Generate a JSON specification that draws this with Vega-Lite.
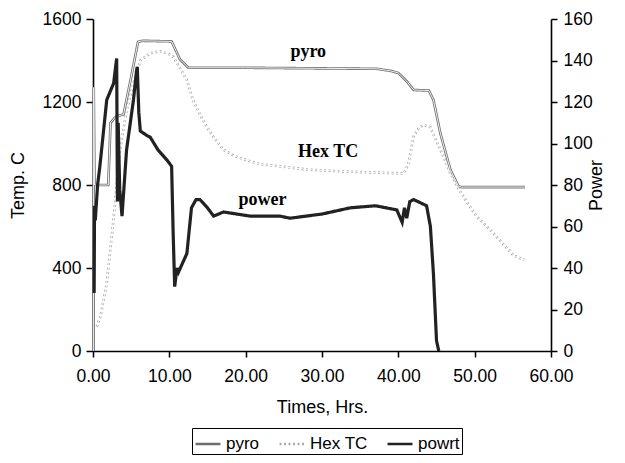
{
  "$schema": "https://vega.github.io/schema/vega-lite/v6.json",
  "width": 458,
  "height": 332,
  "autosize": {"type": "none"},
  "padding": {"left": 93, "top": 19, "right": 74, "bottom": 112},
  "background": "white",
  "config": {
    "view": {"stroke": null},
    "font": "Liberation Sans",
    "axis": {
      "grid": false,
      "domainColor": "black",
      "tickColor": "black",
      "labelColor": "black",
      "titleColor": "black",
      "labelFontSize": 17.5,
      "titleFontSize": 18,
      "titleFontWeight": "normal",
      "labelFont": "Liberation Sans",
      "titleFont": "Liberation Sans",
      "domainWidth": 1.6,
      "tickWidth": 1.5
    }
  },
  "data": {
    "values": [
      {"s": "pyro", "h": 0.05, "v": 0},
      {"s": "pyro", "h": 0.1, "v": 1270},
      {"s": "pyro", "h": 0.2, "v": 800},
      {"s": "pyro", "h": 2.0, "v": 800},
      {"s": "pyro", "h": 2.3, "v": 1100},
      {"s": "pyro", "h": 3.0, "v": 1130},
      {"s": "pyro", "h": 4.0, "v": 1140},
      {"s": "pyro", "h": 5.0, "v": 1320},
      {"s": "pyro", "h": 5.9, "v": 1490},
      {"s": "pyro", "h": 6.5, "v": 1495},
      {"s": "pyro", "h": 10.3, "v": 1492},
      {"s": "pyro", "h": 11.4, "v": 1405},
      {"s": "pyro", "h": 12.5, "v": 1365},
      {"s": "pyro", "h": 20.0, "v": 1365},
      {"s": "pyro", "h": 30.0, "v": 1362},
      {"s": "pyro", "h": 37.2, "v": 1360},
      {"s": "pyro", "h": 39.0, "v": 1350},
      {"s": "pyro", "h": 40.0, "v": 1340},
      {"s": "pyro", "h": 41.1, "v": 1300},
      {"s": "pyro", "h": 42.0, "v": 1258},
      {"s": "pyro", "h": 44.0, "v": 1255},
      {"s": "pyro", "h": 44.6, "v": 1210},
      {"s": "pyro", "h": 45.5, "v": 1050},
      {"s": "pyro", "h": 46.8, "v": 875},
      {"s": "pyro", "h": 47.9, "v": 792},
      {"s": "pyro", "h": 48.3, "v": 790},
      {"s": "pyro", "h": 56.6, "v": 790},
      {"s": "Hex TC", "h": 0.5, "v": 117},
      {"s": "Hex TC", "h": 1.0, "v": 170},
      {"s": "Hex TC", "h": 1.8, "v": 326},
      {"s": "Hex TC", "h": 2.7, "v": 640},
      {"s": "Hex TC", "h": 3.5, "v": 960},
      {"s": "Hex TC", "h": 4.4, "v": 1160},
      {"s": "Hex TC", "h": 5.3, "v": 1290},
      {"s": "Hex TC", "h": 6.2, "v": 1400},
      {"s": "Hex TC", "h": 7.5, "v": 1435},
      {"s": "Hex TC", "h": 8.8, "v": 1445},
      {"s": "Hex TC", "h": 10.0, "v": 1430},
      {"s": "Hex TC", "h": 10.5, "v": 1418},
      {"s": "Hex TC", "h": 11.3, "v": 1370},
      {"s": "Hex TC", "h": 12.3, "v": 1306},
      {"s": "Hex TC", "h": 13.1, "v": 1210},
      {"s": "Hex TC", "h": 14.0, "v": 1140},
      {"s": "Hex TC", "h": 14.9, "v": 1081},
      {"s": "Hex TC", "h": 16.0, "v": 1020},
      {"s": "Hex TC", "h": 17.1, "v": 970},
      {"s": "Hex TC", "h": 18.5, "v": 940},
      {"s": "Hex TC", "h": 20.1, "v": 920},
      {"s": "Hex TC", "h": 22.0, "v": 900},
      {"s": "Hex TC", "h": 24.9, "v": 888},
      {"s": "Hex TC", "h": 28.0, "v": 875},
      {"s": "Hex TC", "h": 30.0, "v": 870},
      {"s": "Hex TC", "h": 33.7, "v": 864},
      {"s": "Hex TC", "h": 37.0, "v": 860},
      {"s": "Hex TC", "h": 40.7, "v": 856},
      {"s": "Hex TC", "h": 41.3, "v": 900},
      {"s": "Hex TC", "h": 42.0, "v": 1033},
      {"s": "Hex TC", "h": 42.7, "v": 1075},
      {"s": "Hex TC", "h": 43.3, "v": 1090},
      {"s": "Hex TC", "h": 44.2, "v": 1078},
      {"s": "Hex TC", "h": 45.0, "v": 1010},
      {"s": "Hex TC", "h": 46.0, "v": 930},
      {"s": "Hex TC", "h": 46.8, "v": 857},
      {"s": "Hex TC", "h": 48.0, "v": 775},
      {"s": "Hex TC", "h": 49.2, "v": 705},
      {"s": "Hex TC", "h": 50.3, "v": 647},
      {"s": "Hex TC", "h": 52.0, "v": 585},
      {"s": "Hex TC", "h": 53.5, "v": 525},
      {"s": "Hex TC", "h": 55.1, "v": 460},
      {"s": "Hex TC", "h": 56.5, "v": 440},
      {"s": "powrt", "h": 0.15, "v": 28},
      {"s": "powrt", "h": 0.2, "v": 70},
      {"s": "powrt", "h": 0.3, "v": 63},
      {"s": "powrt", "h": 0.6, "v": 80},
      {"s": "powrt", "h": 0.9, "v": 89},
      {"s": "powrt", "h": 1.8, "v": 121},
      {"s": "powrt", "h": 2.7, "v": 129},
      {"s": "powrt", "h": 3.1, "v": 141},
      {"s": "powrt", "h": 3.2, "v": 72},
      {"s": "powrt", "h": 3.3, "v": 110},
      {"s": "powrt", "h": 3.5, "v": 78},
      {"s": "powrt", "h": 3.8, "v": 65},
      {"s": "powrt", "h": 4.4, "v": 97},
      {"s": "powrt", "h": 5.3, "v": 121},
      {"s": "powrt", "h": 5.7, "v": 135},
      {"s": "powrt", "h": 5.8, "v": 137},
      {"s": "powrt", "h": 6.0, "v": 115},
      {"s": "powrt", "h": 6.2, "v": 106},
      {"s": "powrt", "h": 7.0, "v": 104},
      {"s": "powrt", "h": 7.5, "v": 103},
      {"s": "powrt", "h": 8.5, "v": 97},
      {"s": "powrt", "h": 9.7, "v": 92},
      {"s": "powrt", "h": 10.3, "v": 89},
      {"s": "powrt", "h": 10.5, "v": 57},
      {"s": "powrt", "h": 10.7, "v": 31},
      {"s": "powrt", "h": 11.0, "v": 40},
      {"s": "powrt", "h": 11.2, "v": 38},
      {"s": "powrt", "h": 12.3, "v": 47},
      {"s": "powrt", "h": 12.9, "v": 69},
      {"s": "powrt", "h": 13.5, "v": 73},
      {"s": "powrt", "h": 14.0, "v": 73},
      {"s": "powrt", "h": 15.0, "v": 69},
      {"s": "powrt", "h": 15.8, "v": 65},
      {"s": "powrt", "h": 17.1, "v": 67},
      {"s": "powrt", "h": 20.6, "v": 65},
      {"s": "powrt", "h": 24.5, "v": 65},
      {"s": "powrt", "h": 25.8, "v": 64},
      {"s": "powrt", "h": 30.0, "v": 66},
      {"s": "powrt", "h": 33.7, "v": 69},
      {"s": "powrt", "h": 37.0, "v": 70},
      {"s": "powrt", "h": 39.8, "v": 68},
      {"s": "powrt", "h": 40.5, "v": 62},
      {"s": "powrt", "h": 40.8, "v": 69},
      {"s": "powrt", "h": 41.1, "v": 64},
      {"s": "powrt", "h": 41.5, "v": 72},
      {"s": "powrt", "h": 42.0, "v": 73},
      {"s": "powrt", "h": 43.7, "v": 70},
      {"s": "powrt", "h": 44.2, "v": 60},
      {"s": "powrt", "h": 44.6, "v": 37},
      {"s": "powrt", "h": 45.0, "v": 5},
      {"s": "powrt", "h": 45.3, "v": 0}
    ]
  },
  "encoding": {
    "x": {
      "field": "h",
      "type": "quantitative",
      "scale": {"domain": [0, 60], "nice": false},
      "axis": {
        "title": "Times, Hrs.",
        "format": ".2f",
        "values": [0, 10, 20, 30, 40, 50, 60],
        "labelFlush": false,
        "tickSize": 6,
        "labelPadding": 10,
        "titlePadding": 14
      }
    }
  },
  "layer": [
    {
      "layer": [
        {
          "transform": [{"filter": "datum.s !== 'powrt'"}],
          "mark": {"type": "line", "strokeWidth": 2.6},
          "encoding": {
            "y": {
              "field": "v",
              "type": "quantitative",
              "scale": {"domain": [0, 1600], "nice": false},
              "axis": {"title": "Temp. C", "format": "d", "values": [0, 400, 800, 1200, 1600], "tickSize": 7, "labelPadding": 5, "titlePadding": 15}
            },
            "color": {
              "field": "s",
              "type": "nominal",
              "scale": {"domain": ["pyro", "Hex TC", "powrt"], "range": ["#6e6e6e", "#ababab", "#222222"]},
              "legend": {"title": null, "orient": "none", "legendX": 99, "legendY": 409, "direction": "horizontal", "strokeColor": "black", "padding": 2, "symbolType": "stroke", "symbolSize": 620, "symbolStrokeWidth": 2.5, "labelFontSize": 17, "labelFont": "Liberation Sans", "labelColor": "black", "columnPadding": 14, "labelOffset": 4}
            },
            "strokeDash": {
              "field": "s",
              "type": "nominal",
              "scale": {"domain": ["pyro", "Hex TC", "powrt"], "range": [[1, 0], [2, 2.5], [1, 0]]},
              "legend": {"title": null, "orient": "none", "legendX": 99, "legendY": 409, "direction": "horizontal", "strokeColor": "black", "padding": 2, "symbolType": "stroke", "symbolSize": 620, "symbolStrokeWidth": 2.5, "labelFontSize": 17, "labelFont": "Liberation Sans", "labelColor": "black", "columnPadding": 14, "labelOffset": 4}
            }
          }
        },
        {
          "transform": [{"filter": "datum.s !== 'powrt'"}],
          "mark": {"type": "line", "strokeWidth": 0.9, "color": "white"},
          "encoding": {"y": {"field": "v", "type": "quantitative"}, "detail": {"field": "s"}}
        },
        {
          "data": {
            "values": [
              {"h": 28.2, "v": 1443, "t": "pyro"},
              {"h": 30.8, "v": 960, "t": "Hex TC"},
              {"h": 22.2, "v": 727, "t": "power"}
            ]
          },
          "mark": {"type": "text", "font": "Liberation Serif", "fontWeight": "bold", "fontSize": 18, "color": "black"},
          "encoding": {
            "y": {"field": "v", "type": "quantitative"},
            "text": {"field": "t"}
          }
        }
      ]
    },
    {
      "transform": [{"filter": "datum.s === 'powrt'"}],
      "mark": {"type": "line", "strokeWidth": 3.2},
      "encoding": {
        "y": {
          "field": "v",
          "type": "quantitative",
          "scale": {"domain": [0, 160], "nice": false},
          "axis": {"orient": "right", "title": "Power", "titleAngle": 270, "values": [0, 20, 40, 60, 80, 100, 120, 140, 160], "tickSize": 6, "labelPadding": 6, "titlePadding": 13}
        },
        "color": {"field": "s", "type": "nominal"},
        "strokeDash": {"field": "s", "type": "nominal"}
      }
    }
  ],
  "resolve": {"scale": {"y": "independent"}}
}
